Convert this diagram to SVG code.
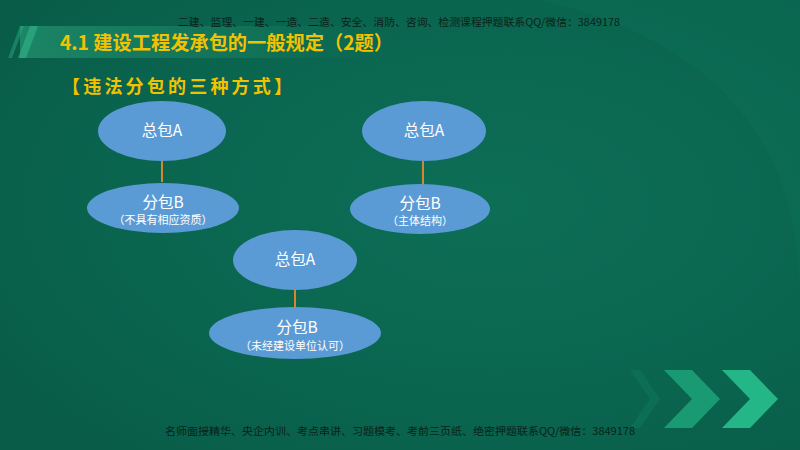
<svg xmlns="http://www.w3.org/2000/svg" width="800" height="450" viewBox="0 0 800 450">
<defs>
<radialGradient id="bg" cx="0.62" cy="0.45" r="0.75">
<stop offset="0" stop-color="#0d6e56"/>
<stop offset="0.6" stop-color="#0a654f"/>
<stop offset="1" stop-color="#085c48"/>
</radialGradient>
<linearGradient id="band" x1="0" y1="0" x2="1" y2="0">
<stop offset="0" stop-color="#1e8a68" stop-opacity="0.9"/>
<stop offset="0.6" stop-color="#157a5d" stop-opacity="0.6"/>
<stop offset="1" stop-color="#0a654f" stop-opacity="0"/>
</linearGradient>
<style>
.node{fill:#5b9bd5;}
.t{font-family:"Noto Sans CJK SC","Noto Sans",sans-serif;fill:#ffffff;text-anchor:middle;}
.big{font-size:15.5px;}
.small{font-size:11px;}
.edge{stroke:#d9852e;stroke-width:2;}
.wm{font-family:"Noto Sans CJK SC",sans-serif;font-size:10.5px;fill:#0a2219;}
</style>
</defs>
<rect width="800" height="450" fill="url(#bg)"/>
<path d="M540 0 Q800 60 800 300 L800 0 Z" fill="#0e735a" opacity="0.3"/>
<rect x="20" y="26" width="400" height="32" fill="url(#band)"/>
<polygon points="18,58 30,26 38,26 26,58" fill="#2fae84" opacity="0.7"/>
<polygon points="8,58 20,26 24,26 12,58" fill="#2fae84" opacity="0.45"/>
<text x="178" y="26" class="wm" textLength="442" lengthAdjust="spacingAndGlyphs">二建、监理、一建、一造、二造、安全、消防、咨询、检测课程押题联系QQ/微信：3849178</text>
<text x="60" y="50" font-family="Noto Sans CJK SC,sans-serif" font-size="19.5" font-weight="bold" fill="#f2c200" textLength="333" lengthAdjust="spacingAndGlyphs">4.1 建设工程发承包的一般规定（2题）</text>
<text x="62" y="93" font-family="Noto Sans CJK SC,sans-serif" font-size="18" font-weight="bold" fill="#f2c200" textLength="230" lengthAdjust="spacing">【违法分包的三种方式】</text>
<g id="connectors">
<line class="edge" x1="162" y1="161" x2="162" y2="182"/>
<line class="edge" x1="423" y1="161" x2="423" y2="185"/>
<line class="edge" x1="295" y1="290" x2="295" y2="308"/>
</g>
<g id="n1"><ellipse class="node" cx="162" cy="131" rx="64" ry="30"/><text class="t big" x="162" y="136">总包A</text></g>
<g id="n2"><ellipse class="node" cx="163" cy="208" rx="76" ry="25"/><text class="t big" x="163" y="208">分包B</text><text class="t small" x="163" y="224">（不具有相应资质）</text></g>
<g id="n3"><ellipse class="node" cx="424" cy="131" rx="62" ry="30"/><text class="t big" x="424" y="136">总包A</text></g>
<g id="n4"><ellipse class="node" cx="420" cy="209" rx="70" ry="25"/><text class="t big" x="420" y="209">分包B</text><text class="t small" x="420" y="225">（主体结构）</text></g>
<g id="n5"><ellipse class="node" cx="295" cy="260" rx="62" ry="30"/><text class="t big" x="295" y="265">总包A</text></g>
<g id="n6"><ellipse class="node" cx="295" cy="333" rx="86" ry="26"/><text class="t big" x="297" y="333">分包B</text><text class="t small" x="295" y="350">（未经建设单位认可）</text></g>
<polygon points="630,370 640,370 660,399 640,428 630,428 650,399" fill="#0e7058" opacity="0.8"/>
<polygon points="664,370 692,370 720,399 692,428 664,428 692,399" fill="#1a9a72"/>
<polygon points="722,370 750,370 778,399 750,428 722,428 750,399" fill="#24b687"/>
<text x="165" y="435" class="wm" textLength="470" lengthAdjust="spacingAndGlyphs">名师面授精华、央企内训、考点串讲、习题模考、考前三页纸、绝密押题联系QQ/微信：3849178</text>
</svg>
